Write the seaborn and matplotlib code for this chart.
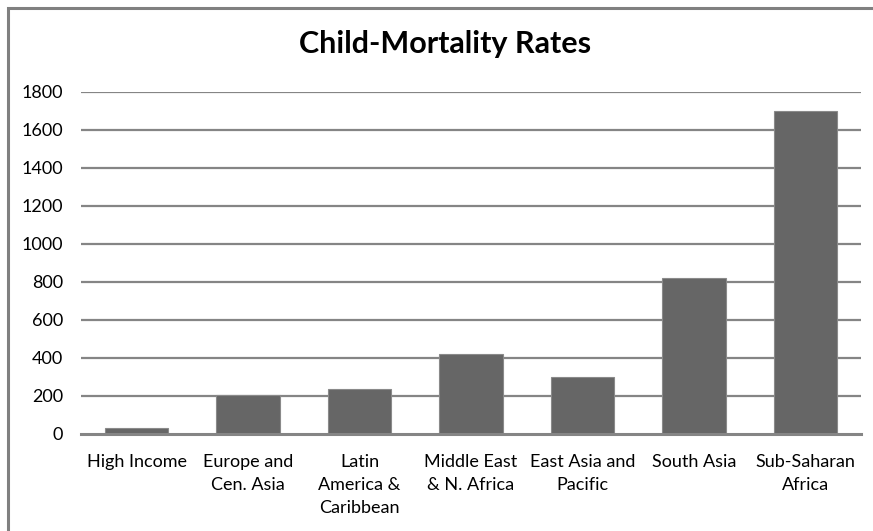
import matplotlib
matplotlib.use("Agg")
import matplotlib.pyplot as plt
import seaborn as sns
import pandas as pd
from matplotlib.patches import Rectangle

regions = [
    "High Income",
    "Europe and\nCen. Asia",
    "Latin\nAmerica &\nCaribbean",
    "Middle East\n& N. Africa",
    "East Asia and\nPacific",
    "South Asia",
    "Sub-Saharan\nAfrica",
]
deaths = [32, 205, 235, 420, 300, 820, 1700]
y_ticks = [0, 200, 400, 600, 800, 1000, 1200, 1400, 1600, 1800]

df = pd.DataFrame({"region": regions, "deaths": deaths})

sns.set_theme(style="white")
plt.rcParams["font.family"] = ["Lato", "DejaVu Sans"]

fig = plt.figure(figsize=(8.73, 5.31), dpi=100)
ax = fig.add_axes([81 / 873, 97 / 531, 780 / 873, 342 / 531])

grid_color = "#858585"
for t in y_ticks[1:]:
    ax.axhline(t, color=grid_color, lw=1.6, zorder=0)

sns.barplot(data=df, x="region", y="deaths", color="#666666", width=0.57,
            saturation=1, edgecolor="#8a8a8a", linewidth=0.8, ax=ax, zorder=2)

ax.set_ylim(0, 1800)
ax.set_xlim(-0.5, len(regions) - 0.5)
ax.set_yticks(y_ticks)
ax.set_yticklabels([str(t) for t in y_ticks], fontsize=13, color="#000000")
ax.tick_params(axis="y", length=0, pad=13)
ax.tick_params(axis="x", length=0, pad=14.5, labelsize=13, labelcolor="#000000")
ax.set_xlabel("")
ax.set_ylabel("")
for side in ["top", "right", "left"]:
    ax.spines[side].set_visible(False)
ax.spines["bottom"].set_color(grid_color)
ax.spines["bottom"].set_linewidth(2.2)
ax.spines["bottom"].set_zorder(3)

for lbl in ax.get_xticklabels():
    lbl.set_horizontalalignment("center")
    lbl.set_verticalalignment("top")
    lbl.set_linespacing(1.52)

fig.text(445 / 873, 1 - 44 / 531, "Child-Mortality Rates", ha="center", va="center",
         fontsize=22, fontweight="bold", color="#000000")

# outer chart frame
fig.patches.append(Rectangle((8 / 873, -0.05), 1.2, 1 - 8 / 531 + 0.05,
                             transform=fig.transFigure, fill=False,
                             edgecolor="#808080", lw=2.2, zorder=10))

fig.savefig("out.png", dpi=100, facecolor="white")
